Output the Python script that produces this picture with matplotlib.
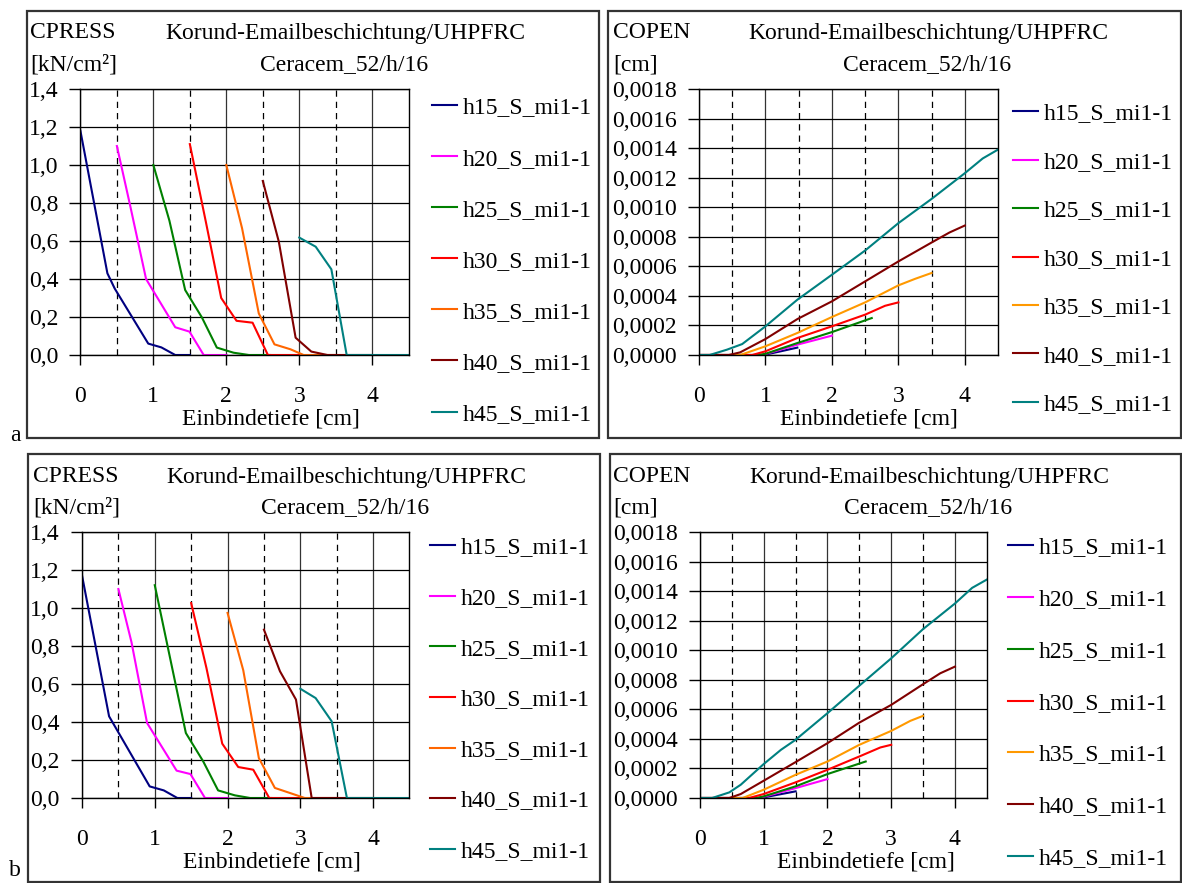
import matplotlib

matplotlib.use("Agg")
import matplotlib.pyplot as plt
from matplotlib.patches import Rectangle
from matplotlib.ticker import FuncFormatter

# ---- data ---------------------------------------------------------------
labels = ["h15_S_mi1-1", "h20_S_mi1-1", "h25_S_mi1-1", "h30_S_mi1-1",
          "h35_S_mi1-1", "h40_S_mi1-1", "h45_S_mi1-1"]

# panel a, CPRESS [kN/cm²]
cpress_a_x = [
    [0, 0.37, 0.47, 0.93, 1.11, 1.30, 1.5],
    [0.5, 0.68, 0.9, 1.30, 1.495, 1.69, 2.0],
    [1.0, 1.22, 1.436, 1.665, 1.87, 2.1, 2.31, 2.6],
    [1.5, 1.72, 1.93, 2.14, 2.36, 2.57, 3.0],
    [2.0, 2.216, 2.445, 2.66, 2.88, 3.06, 3.5],
    [2.5, 2.72, 2.95, 3.165, 3.385, 4.0],
    [3.0, 3.225, 3.44, 3.65, 4.5],
]
cpress_a_y = [
    [1.18, 0.43, 0.35, 0.06, 0.04, 0.0, 0.0],
    [1.10, 0.79, 0.40, 0.146, 0.123, 0.0, 0.0],
    [1.0, 0.707, 0.342, 0.198, 0.039, 0.012, 0.0, 0.0],
    [1.11, 0.70, 0.30, 0.18, 0.17, 0.0, 0.0],
    [1.0, 0.667, 0.219, 0.056, 0.03, 0.0, 0.0],
    [0.916, 0.596, 0.091, 0.018, 0.0, 0.0],
    [0.618, 0.570, 0.451, 0.0, 0.0],
]

# panel a, COPEN [cm]
copen_a_x = [
    [0, 0.97, 1.23, 1.48],
    [0, 0.95, 1.48, 2.0],
    [0, 0.87, 1.0, 1.48, 2.0, 2.6],
    [0, 0.8, 1.0, 1.48, 2.0, 2.5, 2.8, 3.0],
    [0, 0.62, 1.0, 1.48, 2.0, 2.5, 3.0, 3.25, 3.5],
    [0, 0.45, 0.62, 1.0, 1.48, 2.0, 2.5, 3.0, 3.5, 3.77, 4.0],
    [0, 0.16, 0.42, 0.65, 1.0, 1.48, 2.0, 2.5, 3.0, 3.5, 4.0, 4.27, 4.5],
]
copen_a_y = [
    [0, 0, 0.000025, 0.00005],
    [0, 0, 0.00007, 0.000131],
    [0, 0, 0.000008, 0.000081, 0.000155, 0.00025],
    [0, 0, 0.000025, 0.000115, 0.000194, 0.000273, 0.000333, 0.000356],
    [0, 0, 0.000059, 0.000149, 0.000257, 0.000356, 0.000471, 0.000515, 0.000555],
    [0, 0, 0.000018, 0.000108, 0.000243, 0.000363, 0.000498, 0.000633,
     0.000761, 0.000829, 0.000876],
    [0, 0, 0.000036, 0.000074, 0.000194, 0.000374, 0.000543, 0.000707,
     0.000892, 0.001056, 0.00123, 0.00133, 0.00139],
]

# panel b, CPRESS
cpress_b_x = [
    [0, 0.372, 0.93, 1.124, 1.31, 1.5],
    [0.5, 0.68, 0.894, 1.30, 1.49, 1.69, 2.0],
    [1.0, 1.427, 1.665, 1.87, 2.1, 2.31, 2.6],
    [1.5, 1.71, 1.927, 2.147, 2.353, 2.573, 3.0],
    [2.0, 2.216, 2.43, 2.65, 2.86, 3.06, 3.5],
    [2.5, 2.72, 2.94, 3.156, 4.0],
    [3.0, 3.21, 3.43, 3.64, 4.5],
]
cpress_b_y = [
    [1.172, 0.43, 0.061, 0.04, 0.0, 0.0],
    [1.10, 0.82, 0.395, 0.144, 0.126, 0.0, 0.0],
    [1.12, 0.342, 0.193, 0.04, 0.014, 0.0, 0.0],
    [1.026, 0.684, 0.286, 0.163, 0.149, 0.0, 0.0],
    [0.974, 0.672, 0.21, 0.053, 0.026, 0.0, 0.0],
    [0.886, 0.667, 0.518, 0.0, 0.0],
    [0.575, 0.526, 0.404, 0.0, 0.0],
]

# panel b, COPEN
copen_b_x = [
    [0, 0.95, 1.5],
    [0, 0.93, 1.5, 2.0],
    [0, 0.88, 1.0, 1.5, 2.0, 2.6],
    [0, 0.77, 1.0, 1.5, 2.0, 2.5, 2.83, 3.0],
    [0, 0.67, 1.0, 1.5, 2.0, 2.5, 3.0, 3.3, 3.5],
    [0, 0.46, 0.64, 1.0, 1.5, 2.0, 2.5, 3.0, 3.5, 3.77, 4.0],
    [0, 0.19, 0.46, 0.64, 1.0, 1.27, 1.5, 2.0, 2.5, 3.0, 3.5, 4.0, 4.27, 4.5],
]
copen_b_y = [
    [0, 0, 0.000045],
    [0, 0, 0.000067, 0.000128],
    [0, 0, 0.000011, 0.000079, 0.000162, 0.000247],
    [0, 0, 0.000027, 0.000106, 0.000191, 0.000281, 0.000342, 0.00036],
    [0, 0, 0.000056, 0.000157, 0.000247, 0.00036, 0.000454, 0.000522, 0.000556],
    [0, 0, 0.000027, 0.000117, 0.000243, 0.000371, 0.00051, 0.00063,
     0.00077, 0.000844, 0.000889],
    [0, 0, 0.000038, 0.00009, 0.00023, 0.000326, 0.000394, 0.000574,
     0.00076, 0.000945, 0.001143, 0.001316, 0.001422, 0.001478],
]

colors_press = ["#000080", "#FF00FF", "#008000", "#FF0000", "#FF6600", "#800000", "#008080"]
colors_open = ["#000080", "#FF00FF", "#008000", "#FF0000", "#FF9900", "#800000", "#008080"]

# ---- style --------------------------------------------------------------
plt.rcParams.update({
    "font.family": ["Liberation Serif", "DejaVu Serif"],
    "font.size": 17,
})

W, H = 1182, 883
fig = plt.figure(figsize=(W / 100, H / 100), dpi=100)


def px_axes(l, t, r, b):
    return fig.add_axes([l / W, 1 - b / H, (r - l) / W, (b - t) / H])


def ftext(x, y, s, **kw):
    fig.text(x / W, 1 - y / H, s, va="center", **kw)


def setup(ax, ymax, ystep, fmt):
    ax.set_xlim(0, 4.5)
    ax.set_ylim(0, ymax)
    ax.set_xticks([0, 1, 2, 3, 4])
    ax.set_xticks([0.5, 1.5, 2.5, 3.5], minor=True)
    n = int(round(ymax / ystep))
    ax.set_yticks([i * ystep for i in range(n + 1)])
    ax.yaxis.set_major_formatter(FuncFormatter(lambda v, p: fmt.format(v).replace(".", ",")))
    ax.grid(True, axis="y", which="major", color="black", lw=0.9)
    ax.grid(True, axis="x", which="major", color="#333333", lw=0.9)
    ax.grid(True, axis="x", which="minor", color="black", lw=0.9, ls=(0, (5, 4)))
    ax.tick_params(which="minor", length=0)
    ax.tick_params(axis="x", which="major", direction="out", length=7, width=1, pad=15)
    ax.tick_params(axis="y", which="major", direction="out", length=8, width=1, pad=8)
    for s in ax.spines.values():
        s.set_linewidth(1.0)
    ax.set_axisbelow(True)


def draw_panel(ax, xs, ys, cols):
    for x, y, c, lab in zip(xs, ys, cols, labels):
        ax.plot(x, y, color=c, lw=1.5, label=lab)


def add_legend(ax, x, y, spacing):
    ax.legend(loc="upper left", bbox_to_anchor=(x / W, 1 - y / H),
              bbox_transform=fig.transFigure, frameon=False,
              handlelength=1.05, handletextpad=0.25, labelspacing=spacing,
              borderaxespad=0, borderpad=0, fontsize=17)


# panel borders
for l, t, r, b in [(27, 11, 599, 438), (608, 11, 1181, 438),
                   (28, 454, 600, 882), (610, 454, 1181, 882)]:
    fig.patches.append(Rectangle((l / W, 1 - b / H), (r - l) / W, (b - t) / H,
                                 transform=fig.transFigure, fill=False,
                                 ec="#333333", lw=1.6))

# top-left: CPRESS a
ax1 = px_axes(80.4, 89, 408.7, 355)
setup(ax1, 1.4, 0.2, "{:.1f}")
draw_panel(ax1, cpress_a_x, cpress_a_y, colors_press)
add_legend(ax1, 432, 97, 1.25)
ftext(30, 33, "CPRESS")
ftext(165, 33, "Korund-Emailbeschichtung/UHPFRC")
ftext(30, 65, "[kN/cm²]")
ftext(260, 65, "Ceracem_52/h/16")
ftext(271, 419, "Einbindetiefe [cm]", ha="center")

# top-right: COPEN a
ax2 = px_axes(699, 89, 998, 355)
setup(ax2, 0.0018, 0.0002, "{:.4f}")
draw_panel(ax2, copen_a_x, copen_a_y, colors_open)
add_legend(ax2, 1013, 103, 1.14)
ftext(613, 33, "COPEN")
ftext(748, 33, "Korund-Emailbeschichtung/UHPFRC")
ftext(613, 65, "[cm]")
ftext(843, 65, "Ceracem_52/h/16")
ftext(869, 419, "Einbindetiefe [cm]", ha="center")

# bottom-left: CPRESS b
ax3 = px_axes(82, 532, 409.5, 798)
setup(ax3, 1.4, 0.2, "{:.1f}")
draw_panel(ax3, cpress_b_x, cpress_b_y, colors_press)
add_legend(ax3, 430, 537, 1.23)
ftext(33, 477, "CPRESS")
ftext(166, 477, "Korund-Emailbeschichtung/UHPFRC")
ftext(33, 508, "[kN/cm²]")
ftext(261, 508, "Ceracem_52/h/16")
ftext(272, 862, "Einbindetiefe [cm]", ha="center")

# bottom-right: COPEN b
ax4 = px_axes(700, 532, 986.8, 798)
setup(ax4, 0.0018, 0.0002, "{:.4f}")
draw_panel(ax4, copen_b_x, copen_b_y, colors_open)
add_legend(ax4, 1008, 537, 1.28)
ftext(613, 477, "COPEN")
ftext(749, 477, "Korund-Emailbeschichtung/UHPFRC")
ftext(613, 508, "[cm]")
ftext(844, 508, "Ceracem_52/h/16")
ftext(866, 862, "Einbindetiefe [cm]", ha="center")

# panel letters
ftext(15, 436, "a", ha="center")
ftext(15, 870, "b", ha="center")

fig.savefig("out.png", dpi=100)
